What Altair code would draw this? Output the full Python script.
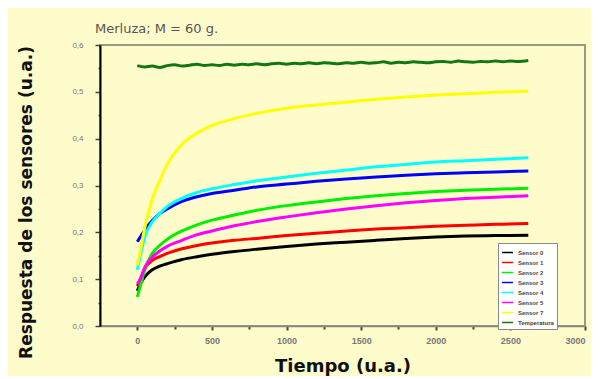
import altair as alt
import pandas as pd

times = [0, 20, 50, 100, 150, 200, 300, 400, 500, 650, 800, 1000, 1200, 1400, 1600, 1800, 2000, 2200, 2400, 2620]

sensor0 = [0.075, 0.090, 0.105, 0.120, 0.128, 0.133, 0.142, 0.148, 0.153, 0.159, 0.164, 0.170, 0.175, 0.179, 0.183, 0.187, 0.190, 0.192, 0.193, 0.194]
sensor1 = [0.085, 0.100, 0.122, 0.140, 0.148, 0.155, 0.165, 0.172, 0.177, 0.183, 0.187, 0.193, 0.198, 0.203, 0.207, 0.210, 0.213, 0.215, 0.217, 0.219]
sensor2 = [0.062, 0.085, 0.120, 0.155, 0.172, 0.185, 0.203, 0.216, 0.226, 0.237, 0.247, 0.257, 0.265, 0.272, 0.278, 0.283, 0.287, 0.290, 0.292, 0.294]
sensor3 = [0.180, 0.190, 0.205, 0.225, 0.240, 0.250, 0.266, 0.276, 0.283, 0.290, 0.297, 0.303, 0.309, 0.314, 0.318, 0.322, 0.325, 0.327, 0.329, 0.331]
sensor4 = [0.120, 0.150, 0.190, 0.222, 0.240, 0.255, 0.273, 0.285, 0.293, 0.302, 0.310, 0.318, 0.326, 0.333, 0.340, 0.345, 0.350, 0.353, 0.356, 0.359]
sensor5 = [0.090, 0.100, 0.125, 0.147, 0.160, 0.170, 0.183, 0.195, 0.203, 0.214, 0.223, 0.233, 0.242, 0.250, 0.257, 0.263, 0.268, 0.272, 0.275, 0.278]
sensor7 = [0.130, 0.160, 0.210, 0.270, 0.310, 0.345, 0.388, 0.412, 0.428, 0.443, 0.454, 0.465, 0.472, 0.478, 0.484, 0.489, 0.493, 0.496, 0.499, 0.501]

temp_times = [0, 50, 100, 150, 200, 250, 300, 350, 400, 450, 500, 550, 600, 650, 700, 750, 800, 850, 900, 950,
              1000, 1050, 1100, 1150, 1200, 1250, 1300, 1350, 1400, 1450, 1500, 1550, 1600, 1650, 1700, 1750,
              1800, 1850, 1900, 1950, 2000, 2050, 2100, 2150, 2200, 2250, 2300, 2350, 2400, 2450, 2500, 2550, 2620]
temperatura = [0.556, 0.553, 0.555, 0.552, 0.556, 0.558, 0.555, 0.557, 0.559, 0.556, 0.558, 0.556, 0.559, 0.557, 0.559, 0.558, 0.560, 0.558, 0.560, 0.561,
               0.559, 0.561, 0.560, 0.562, 0.560, 0.562, 0.561, 0.560, 0.562, 0.561, 0.563, 0.561, 0.562, 0.564, 0.561, 0.563,
               0.562, 0.564, 0.563, 0.562, 0.564, 0.565, 0.563, 0.566, 0.564, 0.563, 0.565, 0.564, 0.566, 0.564, 0.566, 0.565, 0.567]

series_names = ["Sensor 0", "Sensor 1", "Sensor 2", "Sensor 3", "Sensor 4", "Sensor 5", "Sensor 7", "Temperatura"]
series_colors = ["#000000", "#FF0000", "#00EE00", "#0000FF", "#00FFFF", "#FF00FF", "#FFFF00", "#117711"]

rows = []
for name, vals in zip(series_names[:7], [sensor0, sensor1, sensor2, sensor3, sensor4, sensor5, sensor7]):
    for t, v in zip(times, vals):
        rows.append({"t": t, "v": v, "s": name})
for t, v in zip(temp_times, temperatura):
    rows.append({"t": t, "v": v, "s": "Temperatura"})
df = pd.DataFrame(rows)

bg = "#FFFCCB"

chart = alt.Chart(df).mark_line(strokeWidth=3, interpolate="monotone").encode(
    x=alt.X("t:Q", scale=alt.Scale(domain=[-250, 3000], nice=False, zero=False),
            axis=alt.Axis(title="Tiempo (u.a.)", values=list(range(0, 3001, 250)),
                          labelExpr="datum.value % 500 == 0 ? datum.label : ''",
                          format="d", grid=False, domainColor="#888877", domainWidth=1.5,
                          tickColor="#444444", tickWidth=2,
                          tickSize={"condition": {"test": "datum.value % 500 != 0", "value": 3}, "value": 4},
                          labelColor="#777777", labelFontSize=9, labelFontWeight="bold", labelPadding=6,
                          titleFontSize=18, titleFontWeight="bold", titleColor="#111111",
                          titlePadding=12, titleFont="DejaVu Sans")),
    y=alt.Y("v:Q", scale=alt.Scale(domain=[0, 0.6], nice=False),
            axis=alt.Axis(title="Respuesta de los sensores (u.a.)",
                          values=[round(i * 0.05, 2) for i in range(13)],
                          labelExpr="round(datum.value*100) % 10 == 0 ? replace(format(datum.value, '.1f'), '.', ',') : ''",
                          grid=False, domainColor="#000000", domainWidth=2,
                          tickColor="#444444", tickWidth=1.5,
                          tickSize={"condition": {"test": "round(datum.value*100) % 10 != 0", "value": 2}, "value": 5},
                          labelColor="#777777", labelFontSize=8, labelPadding=12,
                          titleFontSize=17, titleFontWeight="bold", titleColor="#111111",
                          titlePadding=36, titleY=157, titleFont="DejaVu Sans")),
    color=alt.Color("s:N", scale=alt.Scale(domain=series_names, range=series_colors),
                    legend=alt.Legend(title=None, orient="none", legendX=398, legendY=198,
                                      fillColor="#FFFFFF", strokeColor="#888888", padding=3,
                                      labelFontSize=6, labelColor="#444444", labelFontWeight="bold",
                                      symbolType="stroke", symbolSize=120, symbolStrokeWidth=1.5,
                                      rowPadding=0, labelLimit=80, labelOffset=4)),
).properties(
    width=485, height=281,
    title=alt.TitleParams("Merluza; M = 60 g.", anchor="start", frame="group", fontSize=13, fontWeight="normal",
                          color="#555555", font="DejaVu Sans", offset=5, dx=-5),
    background=bg,
    autosize=alt.AutoSizeParams(type="none"),
    padding={"left": 92, "top": 37, "right": 6, "bottom": 50},
).configure_view(
    fill=bg, stroke="#999988", strokeWidth=2
)

chart.save("out.html", embed_options={"renderer": "svg", "actions": False})
